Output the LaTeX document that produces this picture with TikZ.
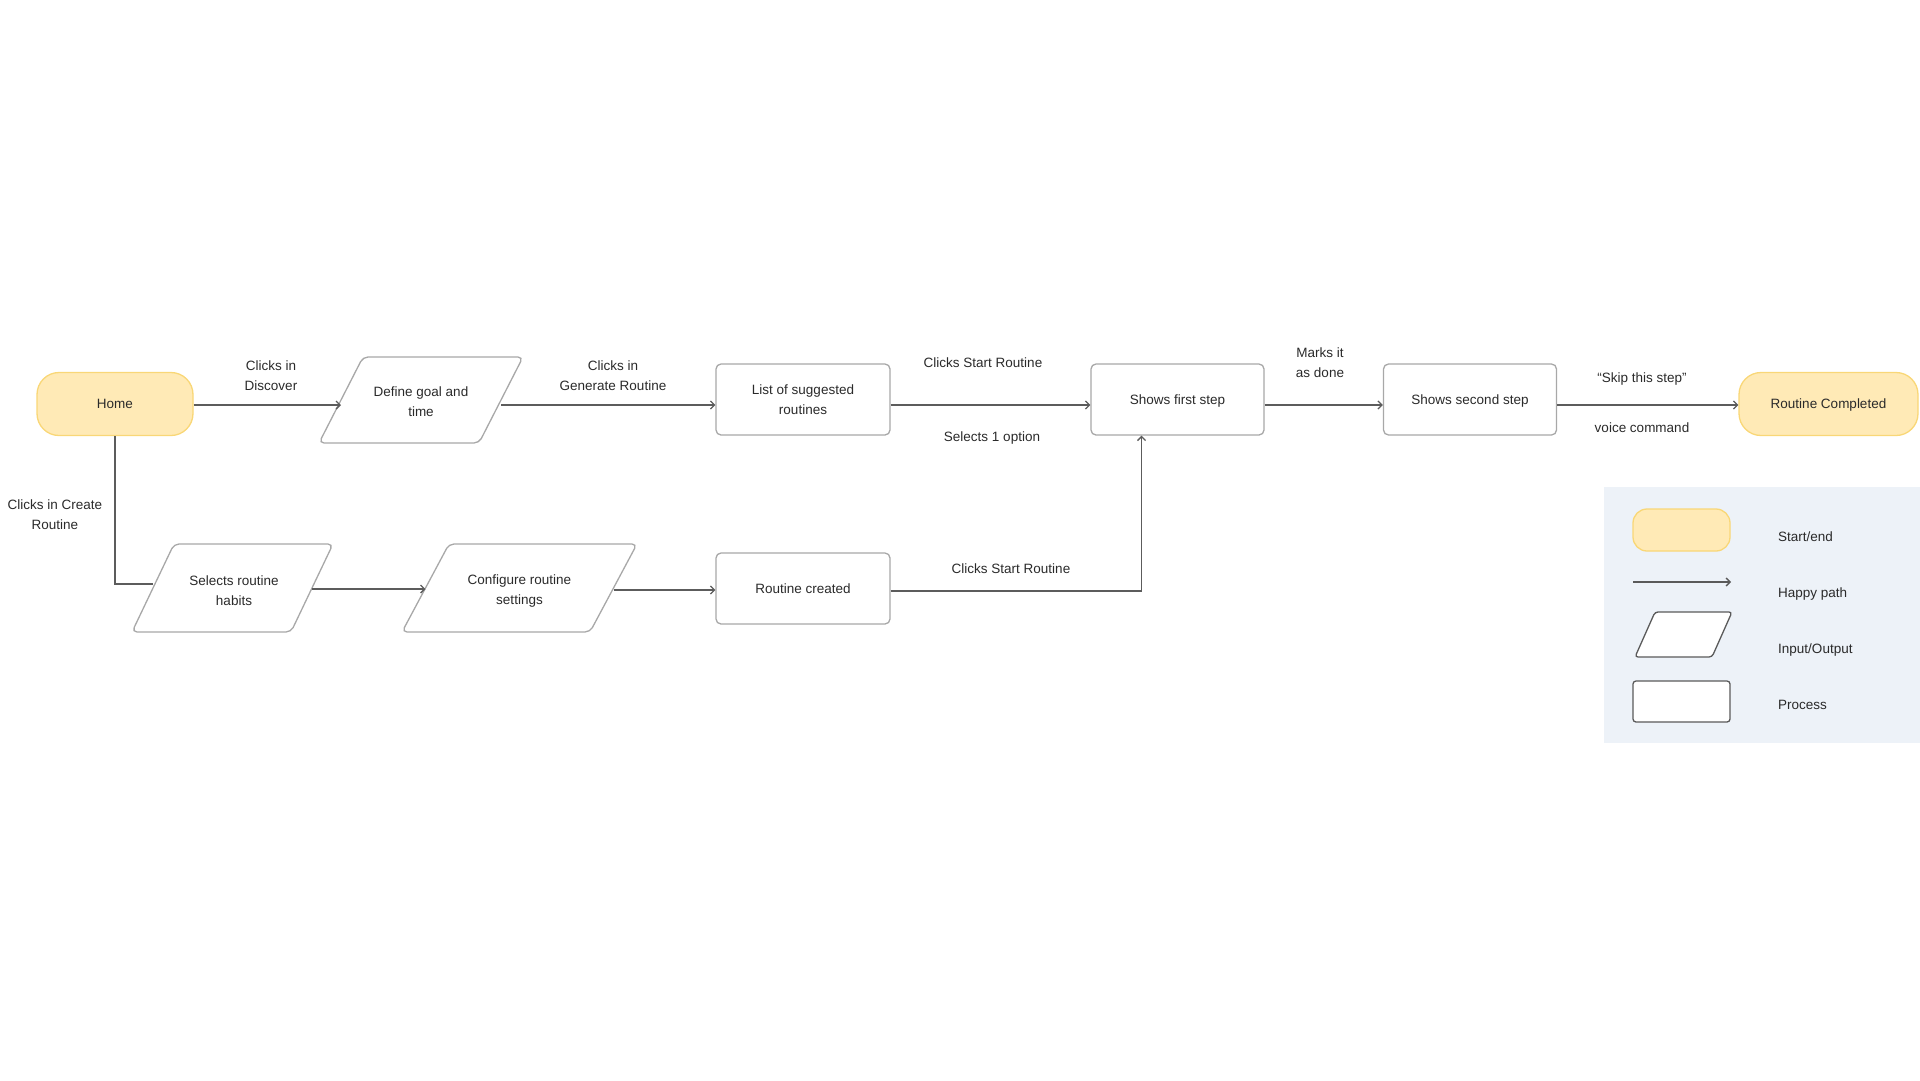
\documentclass[tikz,border=0pt]{standalone}
\usepackage{fontspec}
\setmainfont{Liberation Sans}
\usetikzlibrary{arrows.meta}
\definecolor{termfill}{HTML}{FFEAB6}
\definecolor{termdraw}{HTML}{F9D777}
\definecolor{boxdraw}{HTML}{A8A8A8}
\definecolor{edgecol}{HTML}{5C5C5C}
\definecolor{txtcol}{HTML}{2A2A2A}
\definecolor{legfill}{HTML}{EDF2F8}
\definecolor{legdraw}{HTML}{5A5A5A}
\tikzset{
  every node/.style={font=\fontsize{13.5}{20}\selectfont, text=txtcol, align=center},
  oneline/.style={text height=12.5pt, text depth=2.9pt},
  term/.style={draw=termdraw, fill=termfill, line width=1.3pt, rounded corners=22pt, inner sep=0pt},
  procbox/.style={draw=boxdraw, fill=white, line width=1.3pt, rounded corners=5pt, inner sep=0pt},
  iotext/.style={inner sep=0pt, outer sep=0pt},
  iodraw/.style={draw=boxdraw, fill=white, line width=1.3pt, rounded corners=5pt},
  flow/.style={draw=edgecol, line width=1.3pt, -{Straight Barb[length=4pt,width=8pt]}},
  plainflow/.style={draw=edgecol, line width=1.3pt},
  lbl/.style={inner sep=0pt},
  legtxt/.style={anchor=west, inner sep=0pt, align=left}
}
% #1 name, #2 half slant, #3 draw style extra
\newcommand\paraoutline[3]{%
  \draw[iodraw,#3] ([xshift=#2pt]#1.north west) -- ([xshift=#2pt]#1.north east)
     -- ([xshift=-#2pt]#1.south east) -- ([xshift=-#2pt]#1.south west) -- cycle;}
\begin{document}
\begin{tikzpicture}[x=1pt,y=-1pt]
\useasboundingbox (0,0) rectangle (1920,1080);
% legend panel
\fill[legfill] (1604,487) rectangle (1920,743);

% top row
\node[term, oneline, minimum width=156pt, minimum height=63pt] (home) at (115,404) {Home};
\node[iotext, minimum width=160pt, minimum height=86pt] (define) at (421,400) {};
\paraoutline{define}{22}{}
\node[iotext] (definetxt) at ([yshift=-2pt]define.center) {Define goal and\\time};
\node[procbox, minimum width=174pt, minimum height=71pt] (list) at (803,399.5) {List of suggested\\routines};
\node[procbox, oneline, minimum width=173pt, minimum height=71pt] (first) at (1177.5,399.5) {Shows first step};
\node[procbox, oneline, minimum width=173pt, minimum height=71pt] (second) at (1470,399.5) {Shows second step};
\node[term, oneline, minimum width=179pt, minimum height=63pt] (done) at (1828.5,404) {Routine Completed};

% bottom row
\node[iotext, minimum width=159pt, minimum height=88pt] (habits) at (232.5,588) {};
\paraoutline{habits}{21}{}
\node[iotext] (habitstxt) at ([xshift=1.5pt,yshift=-2.5pt]habits.center) {Selects routine\\habits};
\node[iotext, minimum width=188pt, minimum height=88pt] (config) at (519.5,588) {};
\paraoutline{config}{23.5}{}
\node[iotext] (configtxt) at ([yshift=-2.5pt]config.center) {Configure routine\\settings};
\node[procbox, oneline, minimum width=174pt, minimum height=71pt] (created) at (803,588.5) {Routine created};

% connectors
\draw[flow] (home.east |- 0,405) -- (define.west |- 0,405);
\draw[flow] (define.east |- 0,405) -- (list.west |- 0,405);
\draw[flow] (list.east |- 0,405) -- (first.west |- 0,405);
\draw[flow] (first.east |- 0,405) -- (second.west |- 0,405);
\draw[flow] (second.east |- 0,405) -- (done.west |- 0,405);
\draw[plainflow] (home.south) |- ([yshift=4pt]habits.west);
\draw[flow] (habits.east |- 0,589) -- (config.west |- 0,589);
\draw[flow] (config.east |- 0,590) -- (created.west |- 0,590);
\draw[flow] (created.east |- 0,591) -| ([xshift=-36pt]first.south);

% labels
\node[lbl] (l1) at (271,376) {Clicks in\\Discover};
\node[lbl] (l2) at (613,376) {Clicks in\\Generate Routine};
\node[lbl] (l3) at (983,363) {Clicks Start Routine};
\node[lbl] (l4) at (992,438) {Selects 1 option};
\node[lbl] (l5) at (1320,363) {Marks it\\as done};
\node[lbl] (l6) at (1642,379) {“Skip this step”};
\node[lbl] (l7) at (1642,428) {voice command};
\node[lbl] (l8) at (55,515) {Clicks in Create\\Routine};
\node[lbl] (l9) at (1011,569) {Clicks Start Routine};

% legend
\node[term, minimum width=97pt, minimum height=42pt, rounded corners=14pt] (legterm) at (1681.5,530) {};
\coordinate (legA) at (1633,582);
\coordinate (legB) at (1731,582);
\draw[flow, draw=legdraw] (legA) -- (legB);
\node[iotext, minimum width=77pt, minimum height=45pt] (legio) at (1683.5,634.5) {};
\paraoutline{legio}{10}{draw=legdraw, rounded corners=3pt}
\node[procbox, draw=legdraw, minimum width=97pt, minimum height=41pt, rounded corners=3pt] (legproc) at (1681.5,701.5) {};
\node[legtxt] (t1) at (1778,537) {Start/end};
\node[legtxt] (t2) at (1778,594) {Happy path};
\node[legtxt] (t3) at (1778,650) {Input/Output};
\node[legtxt] (t4) at (1778,705) {Process};
\end{tikzpicture}
\end{document}
